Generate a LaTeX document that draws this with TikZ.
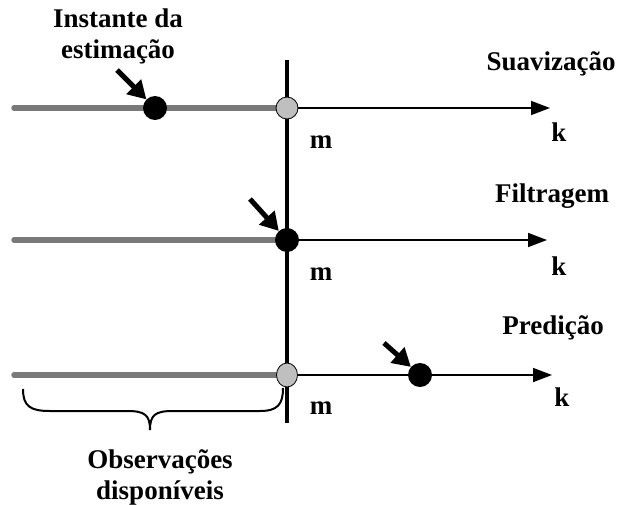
\documentclass[tikz,border=0pt]{standalone}
\usepackage{fontspec}
\setmainfont{Liberation Serif}
\usetikzlibrary{arrows.meta,shapes.geometric}
\begin{document}
\begin{tikzpicture}[x=1pt,y=-1pt,
  lbl/.style={font=\fontsize{27}{31}\selectfont\bfseries, align=center, inner sep=0pt},
  past/.style={draw=gray!95!black, line width=5.5pt, line cap=round},
  axis/.style={line width=1.6pt, -{Triangle[length=19pt,width=14pt]}},
  blackdot/.style={circle, fill=black, minimum size=24pt, inner sep=0pt},
  graydot/.style={circle, fill=gray!50, draw=black, line width=0.8pt, minimum size=22pt, inner sep=0pt},
  pointer/.style={line width=5pt, -{Triangle[length=18pt,width=20pt]}, shorten >=0pt}]
\useasboundingbox (0,0) rectangle (619,504);
% vertical line
\coordinate (vtop) at (287,60);
\coordinate (vbot) at (287,423);
\draw[line width=3.5pt] (vtop) -- (vbot);
% row 1
\coordinate (s1) at (14,108);
\coordinate (e1) at (550,108);
\draw[past] (s1) -- (287,108);
\draw[axis] (287,108) -- (e1);
\node[graydot] (g1) at (287,108) {};
\node[blackdot] (d1) at (155,108) {};
\coordinate (p1) at (117,70);
\draw[pointer] (p1) -- (d1);
\node[lbl] (inst) at (118,36) {Instante da\\estimação};
\node[lbl] (suav) at (551,64) {Suavização};
\node[lbl] (m1) at (321,142) {m};
\node[lbl] (k1) at (559,132) {k};
% row 2
\coordinate (s2) at (14,240);
\coordinate (e2) at (547,240);
\draw[past] (s2) -- (287,240);
\draw[axis] (287,240) -- (e2);
\node[blackdot] (d2) at (287,240) {};
\coordinate (p2) at (250,199);
\draw[pointer] (p2) -- (d2);
\node[lbl] (filt) at (552,196) {Filtragem};
\node[lbl] (m2) at (321,274) {m};
\node[lbl] (k2) at (559,266) {k};
% row 3
\coordinate (s3) at (14,375);
\coordinate (e3) at (552,375);
\draw[past] (s3) -- (287,375);
\draw[axis] (287,375) -- (e3);
\node[graydot, ellipse, minimum width=21pt, minimum height=24pt] (g3) at (287,375) {};
\node[blackdot] (d3) at (420,375) {};
\coordinate (p3) at (384,343);
\draw[pointer] (p3) -- (d3);
\node[lbl] (pred) at (553,328) {Predição};
\node[lbl] (m3) at (321,408) {m};
\node[lbl] (k3) at (562,397) {k};
% brace
\draw[line width=2pt] (23,389) .. controls (23,406) and (30,411) .. (50,411) -- (127,411)
  .. controls (145,411) and (150,415) .. (150,430)
  .. controls (150,415) and (155,411) .. (173,411) -- (260,411)
  .. controls (278,411) and (283,404) .. (283,388);
\node[lbl] (obs) at (160,477) {Observações\\disponíveis};
\end{tikzpicture}
\end{document}
